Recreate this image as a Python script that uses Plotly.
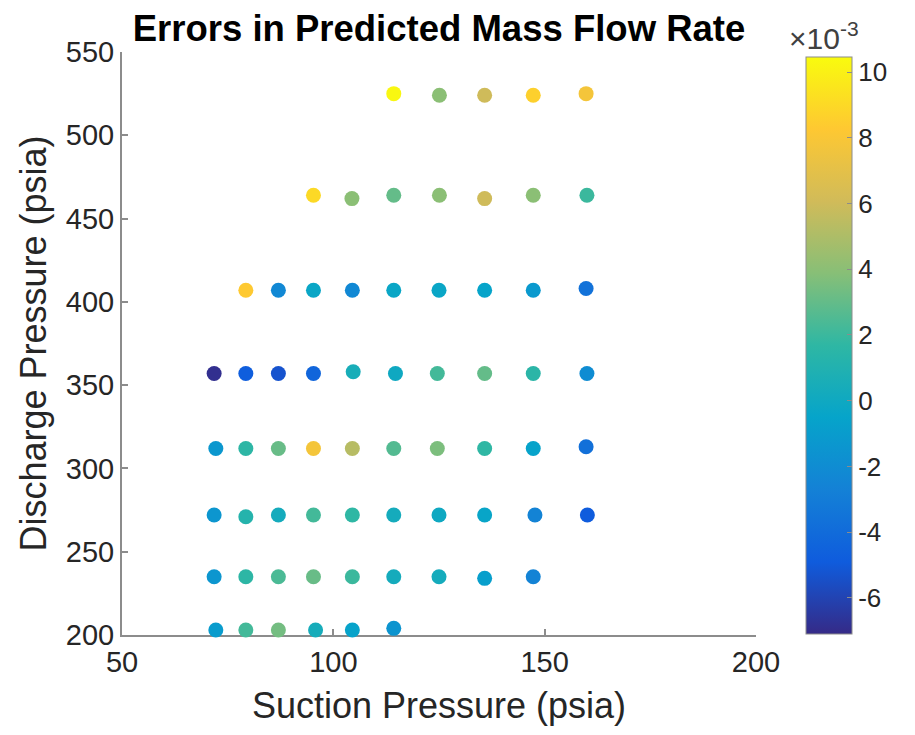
import plotly.graph_objects as go

# Suction pressure (psia), discharge pressure (psia), error (x1e-3)
suction = [
    114.3, 125.1, 135.8, 147.3, 159.8,
    95.3, 104.4, 114.3, 125.1, 135.8, 147.3, 160.0,
    79.3, 87.0, 95.3, 104.5, 114.3, 125.0, 135.8, 147.3, 159.8,
    71.8, 79.3, 87.0, 95.3, 104.7, 114.7, 124.6, 135.8, 147.3, 160.0,
    72.2, 79.3, 87.0, 95.3, 104.5, 114.3, 124.6, 135.8, 147.3, 159.8,
    71.8, 79.3, 87.0, 95.3, 104.5, 114.3, 125.0, 135.8, 147.7, 160.1,
    71.8, 79.3, 87.0, 95.3, 104.5, 114.3, 125.0, 135.8, 147.3,
    72.2, 79.3, 87.0, 95.8, 104.5, 114.3,
]
discharge = [
    525, 524, 524, 524, 525,
    464, 462, 464, 464, 462, 464, 464,
    407, 407, 407, 407, 407, 407, 407, 407, 408,
    357, 357, 357, 357, 358, 357, 357, 357, 357, 357,
    312, 312, 312, 312, 312, 312, 312, 312, 312, 313,
    272, 271, 272, 272, 272, 272, 272, 272, 272, 272,
    235, 235, 235, 235, 235, 235, 235, 234, 235,
    203, 203, 203, 203, 203, 204,
]
error = [
    10.3, 4.0, 6.0, 8.6, 7.8,
    9.0, 4.0, 3.0, 4.0, 6.0, 4.0, 2.0,
    8.3, -2.3, -0.3, -2.3, -0.3, -0.3, -0.5, -1.2, -3.6,
    -6.9, -4.8, -5.3, -4.4, 0.5, 0.0, 2.2, 3.0, 1.5, -2.0,
    -1.3, 1.6, 3.1, 7.8, 5.3, 2.6, 3.6, 1.7, -0.6, -3.7,
    -1.4, 1.2, 0.3, 2.2, 1.7, 0.3, 0.0, -0.4, -2.6, -4.9,
    -1.4, 1.6, 2.4, 3.1, 2.0, 0.3, 0.3, -0.8, -2.6,
    -1.0, 2.2, 3.4, 0.4, -0.6, -1.5,
]

x_ticks = [50, 100, 150, 200]
y_ticks = [200, 250, 300, 350, 400, 450, 500, 550]
cbar_ticks = [-6, -4, -2, 0, 2, 4, 6, 8, 10]
cbar_labels = ["-6", "-4", "-2", "0", "2", "4", "6", "8", "10"]

parula = [
    [0.0, "#352a87"], [0.125, "#0f5cdd"], [0.25, "#1481d6"],
    [0.375, "#06a4ca"], [0.5, "#2eb7a4"], [0.625, "#87bf77"],
    [0.75, "#d1bb59"], [0.875, "#fec832"], [1.0, "#f9fb0e"],
]

FONT = "Liberation Sans, Arial"

fig = go.Figure(go.Scatter(
    x=suction, y=discharge, mode="markers",
    marker=dict(
        size=15, color=error, colorscale=parula, cmin=-7.1, cmax=10.46,
        line=dict(width=0),
        colorbar=dict(
            x=(806 - 122) / 634, xanchor="left", xref="paper",
            y=(635 - 634) / 583, yanchor="bottom", len=577 / 583, lenmode="fraction",
            thickness=46, thicknessmode="pixels", xpad=0, ypad=0,
            outlinecolor="#8c8c8c", outlinewidth=1,
            tickvals=cbar_ticks, ticktext=cbar_labels,
            ticks="inside", ticklen=5, tickcolor="#8c8c8c",
            tickfont=dict(family=FONT, size=26, color="#262626"),
        ),
    ),
    cliponaxis=False,
))

axis_common = dict(
    showgrid=False, zeroline=False, showline=True, linecolor="#8c8c8c",
    linewidth=2, ticks="inside", ticklen=6, tickwidth=1.5, tickcolor="#8c8c8c",
    tickfont=dict(family=FONT, size=29, color="#262626"),
    layer="below traces",
)

fig.update_layout(
    width=915, height=735,
    margin=dict(l=122, r=159, t=52, b=100, autoexpand=False),
    paper_bgcolor="white", plot_bgcolor="white",
    showlegend=False,
    title=dict(
        text="<b>Errors in Predicted Mass Flow Rate</b>",
        x=439 / 915, xanchor="center", y=1 - 28 / 735, yanchor="middle",
        font=dict(family=FONT, size=36.5, color="black"),
    ),
    xaxis=dict(
        range=[50, 200], tickvals=x_ticks,
        title=dict(text="Suction Pressure (psia)", standoff=16,
                   font=dict(family=FONT, size=36, color="#262626")),
        **axis_common,
    ),
    yaxis=dict(
        range=[200, 550], tickvals=y_ticks,
        title=dict(text="Discharge Pressure (psia)", standoff=8,
                   font=dict(family=FONT, size=36, color="#262626")),
        **axis_common,
    ),
    annotations=[dict(
        text="×10<sup>-3</sup>", xref="paper", yref="paper",
        x=(824 - 122) / 634, y=(635 - 36) / 583, xanchor="center", yanchor="middle",
        showarrow=False,
        font=dict(family=FONT, size=30, color="#404040"),
    )],
)

fig.write_html("out.html")
